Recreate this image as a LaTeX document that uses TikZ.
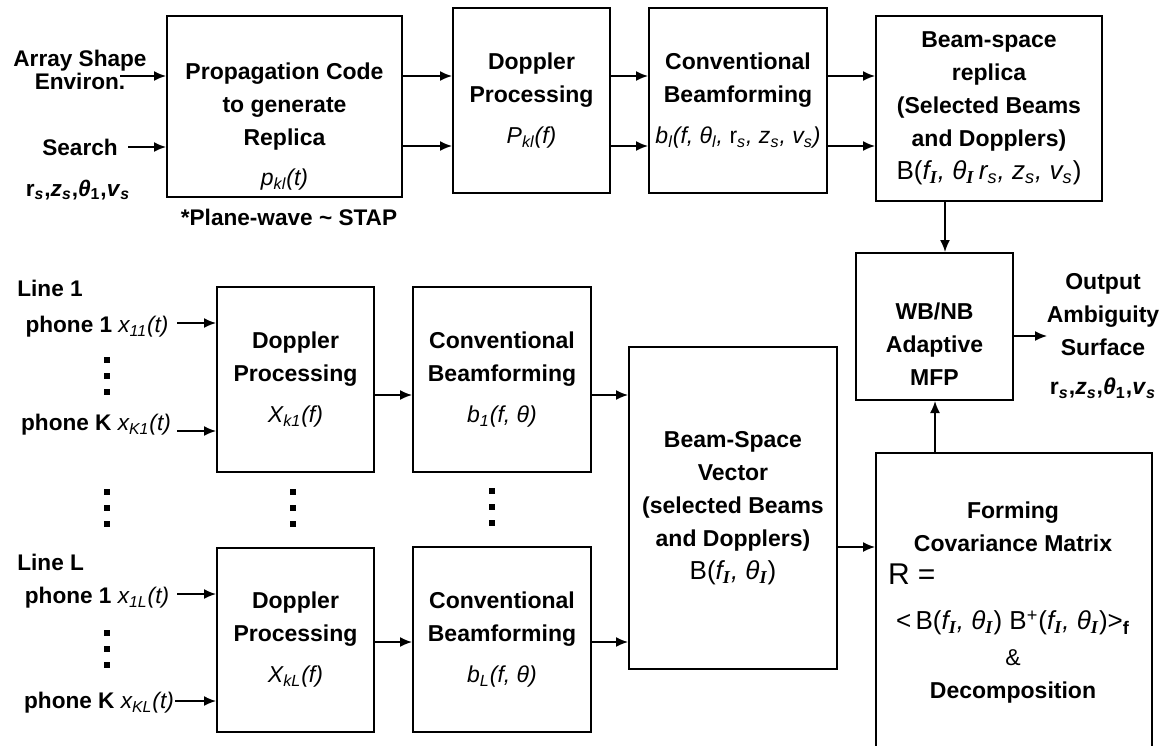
\documentclass[tikz,border=0pt]{standalone}
\usepackage{fontspec}
\setmainfont{Liberation Sans}
\newfontfamily\serifI{Liberation Serif}
\usetikzlibrary{arrows.meta,positioning}

\newcommand{\boxfont}{\fontsize{11.5}{16.5}\selectfont\bfseries}
\newcommand{\lblfont}{\fontsize{11.3}{11.5}\selectfont\bfseries}
\newcommand{\fml}[1]{{\mdseries\itshape #1}}
\newcommand{\subI}{\textsubscript{\serifI\bfseries\itshape I}}
\newcommand{\dotstack}[2]{%
  \fill (#1-3,#2-3) rectangle ++(6,6);
  \fill (#1-3,#2+13) rectangle ++(6,6);
  \fill (#1-3,#2+29) rectangle ++(6,6);}

\begin{document}
\begin{tikzpicture}[x=0.5pt, y=-0.5pt,
    blk/.style={draw, line width=1pt, inner sep=2pt, align=center, font=\boxfont},
    txt/.style={align=center, inner sep=1pt, font=\boxfont},
    lbl/.style={align=center, inner sep=2pt, font=\lblfont},
    arr/.style={-{Latex[length=6pt,width=5pt]}, line width=0.8pt}]

    \useasboundingbox (0,0) rectangle (1165,745);
    \clip (0,0) rectangle (1165,745);

    % Replica branch
    \node[blk, minimum width=117.5pt, minimum height=90.5pt] (prop) at (284.5,106.5) {};
    \node[txt] (propTxt) at (284.5,127) {Propagation Code\\to generate\\Replica\\[3.5pt]\fml{p\textsubscript{kl}(t)}};
    \node[blk, minimum width=78.5pt, minimum height=92.5pt] (dopR) at (531.5,100.5) {Doppler\\Processing\\[4pt]\fml{P\textsubscript{kl}(f)}};
    \node[blk, minimum width=89pt, minimum height=92.5pt] (convR) at (738,100.5) {Conventional\\Beamforming\\[4pt]\fml{b\textsubscript{l}(f, θ\textsubscript{l}, {\upshape r}\textsubscript{s}, z\textsubscript{s}, v\textsubscript{s})}};
    \node[blk, minimum width=113pt, minimum height=92.5pt] (bsr) at (989,108.5) {Beam-space\\replica\\(Selected Beams\\and Dopplers)\\{\mdseries\fontsize{13}{13}\selectfont B(\fml{f\subI, θ\subI\,r\textsubscript{s}, z\textsubscript{s}, v\textsubscript{s}})}};

    % Inputs of the replica branch
    \node[lbl] (shape) at (80,70) {Array Shape\\Environ.};
    \coordinate (envIn) at (120,76);
    \node[lbl] (search) at (80,147) {Search};
    \node[lbl] (srcPar) at (78,190) {r\textsubscript{\textit{s}},\textit{z}\textsubscript{\textit{s}},\textit{θ}\textsubscript{1},\textit{v}\textsubscript{\textit{s}}};
    \node[lbl] (stap) at (289,217) {*Plane-wave \textasciitilde{} STAP};

    \coordinate (ya) at (0,76);
    \coordinate (yb) at (0,146);
    \draw[arr] (envIn) -- (envIn -| prop.west);
    \draw[arr] ([xshift=3pt]search.east) -- (search.east -| prop.west);
    \draw[arr] (prop.east |- ya) -- (dopR.west |- ya);
    \draw[arr] (prop.east |- yb) -- (dopR.west |- yb);
    \draw[arr] (dopR.east |- ya) -- (convR.west |- ya);
    \draw[arr] (dopR.east |- yb) -- (convR.west |- yb);
    \draw[arr] (convR.east |- ya) -- (bsr.west |- ya);
    \draw[arr] (convR.east |- yb) -- (bsr.west |- yb);

    % Adaptive MFP and output
    \node[blk, minimum width=78.5pt, minimum height=73.5pt] (mfp) at (934.5,326.5) {};
    \node[txt] (mfpTxt) at (934.5,344) {WB/NB\\Adaptive\\MFP};
    \node[txt] (outTxt) at (1103,336) {Output\\Ambiguity\\Surface\\[3pt]r\textsubscript{\textit{s}},\textit{z}\textsubscript{\textit{s}},\textit{θ}\textsubscript{1},\textit{v}\textsubscript{\textit{s}}};
    \coordinate (tap) at (945,0);
    \coordinate (outTip) at (1047,336);
    \draw[arr] (bsr.south -| tap) -- (mfp.north -| tap);
    \draw[arr] (outTip -| mfp.east) -- (outTip);

    % Covariance matrix
    \node[blk, minimum width=138pt, minimum height=158.5pt] (cov) at (1014,611.5) {};
    \node[txt] (covTxt) at (1013,603) {Forming\\Covariance Matrix\\
        \makebox[125pt][l]{\mdseries\fontsize{15}{15}\selectfont R =}\\[6pt]
        {\mdseries\fontsize{13}{13}\selectfont <\,B(\fml{f\subI, θ\subI}) B\textsuperscript{+}(\fml{f\subI, θ\subI})>\textsubscript{\bfseries f}}\\[1.5pt]
        {\mdseries \&}\\Decomposition};
    \coordinate (up) at (935,0);
    \draw[arr] (cov.north -| up) -- (mfp.south -| up);

    % Line 1
    \node[lbl, anchor=west] (line1) at (13,288) {Line 1};
    \node[lbl] (ph11) at (97,327) {phone 1 \fml{x\textsubscript{11}(t)}};
    \node[lbl] (phK1) at (96,425) {phone K \fml{x\textsubscript{K1}(t)}};
    \node[blk, minimum width=78.5pt, minimum height=92.5pt] (dop1) at (295.5,379.5) {Doppler\\Processing\\[4pt]\fml{X\textsubscript{k1}(f)}};
    \node[blk, minimum width=89pt, minimum height=92.5pt] (conv1) at (502,379.5) {Conventional\\Beamforming\\[4pt]\fml{b\textsubscript{1}(f, θ)}};

    % Line L
    \node[lbl, anchor=west] (lineL) at (13,562) {Line L};
    \node[lbl] (ph1L) at (97,598) {phone 1 \fml{x\textsubscript{1L}(t)}};
    \node[lbl] (phKL) at (99,703) {phone K \fml{x\textsubscript{KL}(t)}};
    \node[blk, minimum width=78.5pt, minimum height=92pt] (dopL) at (295.5,640) {Doppler\\Processing\\[4pt]\fml{X\textsubscript{kL}(f)}};
    \node[blk, minimum width=89pt, minimum height=92.5pt] (convL) at (502,639.5) {Conventional\\Beamforming\\[4pt]\fml{b\textsubscript{L}(f, θ)}};

    % Beam-space vector
    \node[blk, minimum width=104pt, minimum height=161pt] (bsv) at (733,508) {Beam-Space\\Vector\\(selected Beams\\and Dopplers)\\{\mdseries\fontsize{13}{13}\selectfont B(\fml{f\subI, θ\subI})}};

    \coordinate (in11) at (177,323);
    \coordinate (inK1) at (177,431);
    \coordinate (in1L) at (177,594);
    \coordinate (inKL) at (175,701);
    \coordinate (y1) at (0,395);
    \coordinate (yL) at (0,642);
    \coordinate (yc) at (0,547);
    \draw[arr] (in11) -- (in11 -| dop1.west);
    \draw[arr] (inK1) -- (inK1 -| dop1.west);
    \draw[arr] (in1L) -- (in1L -| dopL.west);
    \draw[arr] (inKL) -- (inKL -| dopL.west);
    \draw[arr] (dop1.east |- y1) -- (conv1.west |- y1);
    \draw[arr] (dopL.east |- yL) -- (convL.west |- yL);
    \draw[arr] (conv1.east |- y1) -- (bsv.west |- y1);
    \draw[arr] (convL.east |- yL) -- (bsv.west |- yL);
    \draw[arr] (bsv.east |- yc) -- (cov.west |- yc);

    % Vertical dots
    \dotstack{107}{360}
    \dotstack{107}{492}
    \dotstack{293}{492}
    \dotstack{492}{491}
    \dotstack{107}{633}
\end{tikzpicture}
\end{document}
